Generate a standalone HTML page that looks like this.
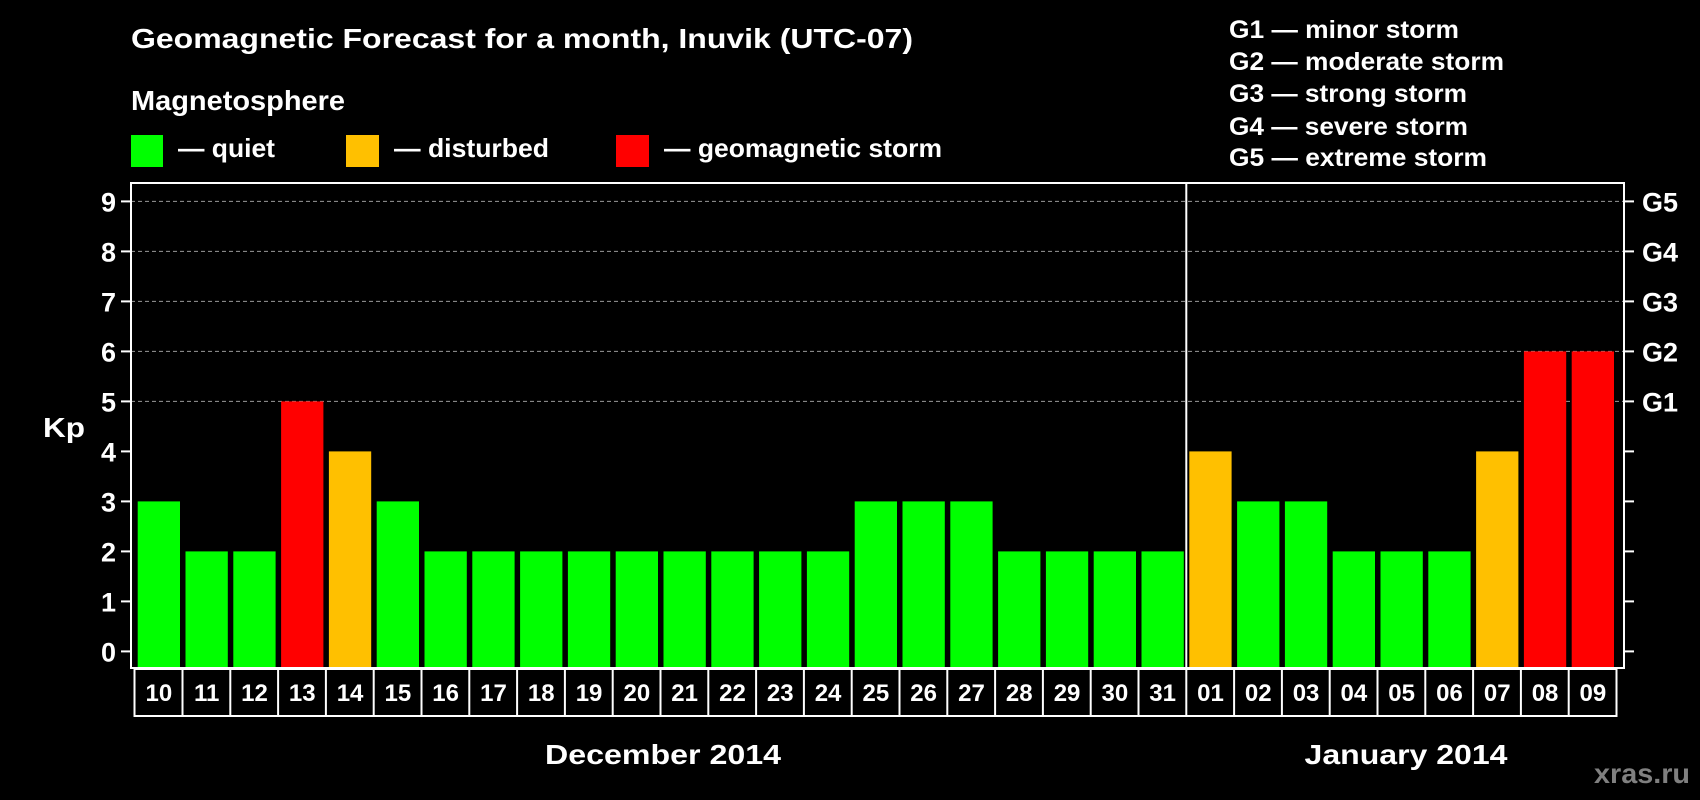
<!DOCTYPE html>
<html><head><meta charset="utf-8"><style>
html,body{margin:0;padding:0;background:#000;}
svg{display:block;font-family:"Liberation Sans",Arial,sans-serif;font-weight:bold;}
</style></head><body>
<svg id="chart" width="1700" height="800" viewBox="0 0 1700 800" xmlns="http://www.w3.org/2000/svg">
<rect width="1700" height="800" fill="#000"/>
<text x="131" y="48" fill="#fff" font-size="28" textLength="782" lengthAdjust="spacingAndGlyphs">Geomagnetic Forecast for a month, Inuvik (UTC-07)</text>
<text x="131" y="110" fill="#fff" font-size="28" textLength="214" lengthAdjust="spacingAndGlyphs">Magnetosphere</text>
<rect x="131" y="135" width="32" height="32" fill="#00ff00"/>
<text x="178" y="157" fill="#fff" font-size="26" textLength="97" lengthAdjust="spacingAndGlyphs">— quiet</text>
<rect x="346" y="135" width="33" height="32" fill="#ffc000"/>
<text x="394" y="157" fill="#fff" font-size="26" textLength="155" lengthAdjust="spacingAndGlyphs">— disturbed</text>
<rect x="616" y="135" width="33" height="32" fill="#ff0000"/>
<text x="664" y="157" fill="#fff" font-size="26" textLength="278" lengthAdjust="spacingAndGlyphs">— geomagnetic storm</text>
<g fill="#fff" font-size="25">
<text x="1229" y="38" textLength="230" lengthAdjust="spacingAndGlyphs">G1 — minor storm</text>
<text x="1229" y="70" textLength="275" lengthAdjust="spacingAndGlyphs">G2 — moderate storm</text>
<text x="1229" y="102" textLength="238" lengthAdjust="spacingAndGlyphs">G3 — strong storm</text>
<text x="1229" y="135" textLength="239" lengthAdjust="spacingAndGlyphs">G4 — severe storm</text>
<text x="1229" y="166" textLength="258" lengthAdjust="spacingAndGlyphs">G5 — extreme storm</text>
</g>
<text x="43" y="437" fill="#fff" font-size="28" textLength="42" lengthAdjust="spacingAndGlyphs">Kp</text>
<g id="grid"></g><g id="bars"></g><g id="axes"></g>
<text x="663" y="764" fill="#fff" font-size="28" text-anchor="middle" textLength="236" lengthAdjust="spacingAndGlyphs">December 2014</text>
<text x="1406" y="764" fill="#fff" font-size="28" text-anchor="middle" textLength="203" lengthAdjust="spacingAndGlyphs">January 2014</text>
<text x="1690" y="783" fill="#808080" font-size="28" text-anchor="end" textLength="96" lengthAdjust="spacingAndGlyphs">xras.ru</text>
</svg>
<script>
const days = ["10","11","12","13","14","15","16","17","18","19","20","21","22","23","24","25","26","27","28","29","30","31","01","02","03","04","05","06","07","08","09"];
const kpValues = [3,2,2,5,4,3,2,2,2,2,2,2,2,2,2,3,3,3,2,2,2,2,4,3,3,2,2,2,4,6,6];
const yTicks = [0,1,2,3,4,5,6,7,8,9];
const gLabels = ["G1","G2","G3","G4","G5"];
const gLevels = [5,6,7,8,9];
const monthBreakIndex = 22;

const NS = "http://www.w3.org/2000/svg";
const plotL = 131, plotR = 1624, plotT = 183, plotB = 668;
const x0 = 137.7, pitch = 47.8, barW = 42.3;
const yZero = 651.4, unit = 50;
const xScale = i => x0 + i * pitch;
const yScale = v => yZero - v * unit;
const color = v => v >= 5 ? "#ff0000" : (v >= 4 ? "#ffc000" : "#00ff00");
function mk(tag, attrs, parent) {
  const e = document.createElementNS(NS, tag);
  for (const k in attrs) e.setAttribute(k, attrs[k]);
  parent.appendChild(e);
  return e;
}
const grid = document.getElementById("grid");
const bars = document.getElementById("bars");
const axes = document.getElementById("axes");

yTicks.forEach(t => {
  const y = yScale(t);
  if (t >= 5) {
    const gl = mk("line", {x1: plotL, x2: plotR, y1: y, y2: y, stroke: "#999", "stroke-width": 1, "stroke-dasharray": "4,3"}, grid);
    
    
  }
  const tl = mk("line", {x1: plotL - 10, x2: plotL, y1: y, y2: y, stroke: "#fff", "stroke-width": 2}, axes);
  
  
  const tr = mk("line", {x1: plotR, x2: plotR + 10, y1: y, y2: y, stroke: "#fff", "stroke-width": 2}, axes);
  
  
  const lb = mk("text", {x: 116, y: y + 10, fill: "#fff", "font-size": 27, "text-anchor": "end"}, axes);
  
  
  lb.textContent = t;
});
gLabels.forEach((g, i) => {
  const lb = mk("text", {x: 1642, y: yScale(gLevels[i]) + 10, fill: "#fff", "font-size": 27}, axes);
  
  
  lb.textContent = g;
});
kpValues.forEach((v, i) => {
  const r = mk("rect", {x: xScale(i), y: yScale(v), width: barW, height: plotB - yScale(v), fill: color(v)}, bars);
  
  
});
const frame = mk("rect", {x: plotL, y: plotT, width: plotR - plotL, height: plotB - plotT, fill: "none", stroke: "#fff", "stroke-width": 2}, axes);


const sepX = xScale(monthBreakIndex) - 3;
const sep = mk("line", {x1: sepX, x2: sepX, y1: plotT, y2: plotB, stroke: "#fff", "stroke-width": 2}, axes);


// category boxes
const boxT = 669, boxB = 716;
const boxL = 134.5, boxR = xScale(days.length - 1) + barW + 2.5;
const cb = mk("rect", {x: boxL, y: boxT, width: boxR - boxL, height: boxB - boxT, fill: "none", stroke: "#fff", "stroke-width": 2}, axes);


days.forEach((d, i) => {
  if (i > 0) {
    const dx = xScale(i) - 3;
    const dl = mk("line", {x1: dx, x2: dx, y1: boxT, y2: boxB, stroke: "#fff", "stroke-width": 2}, axes);
    
    
  }
  const t = mk("text", {x: xScale(i) + barW / 2, y: 701, fill: "#fff", "font-size": 24, "text-anchor": "middle"}, axes);
  
  
  t.textContent = d;
});
</script>
</body></html>
